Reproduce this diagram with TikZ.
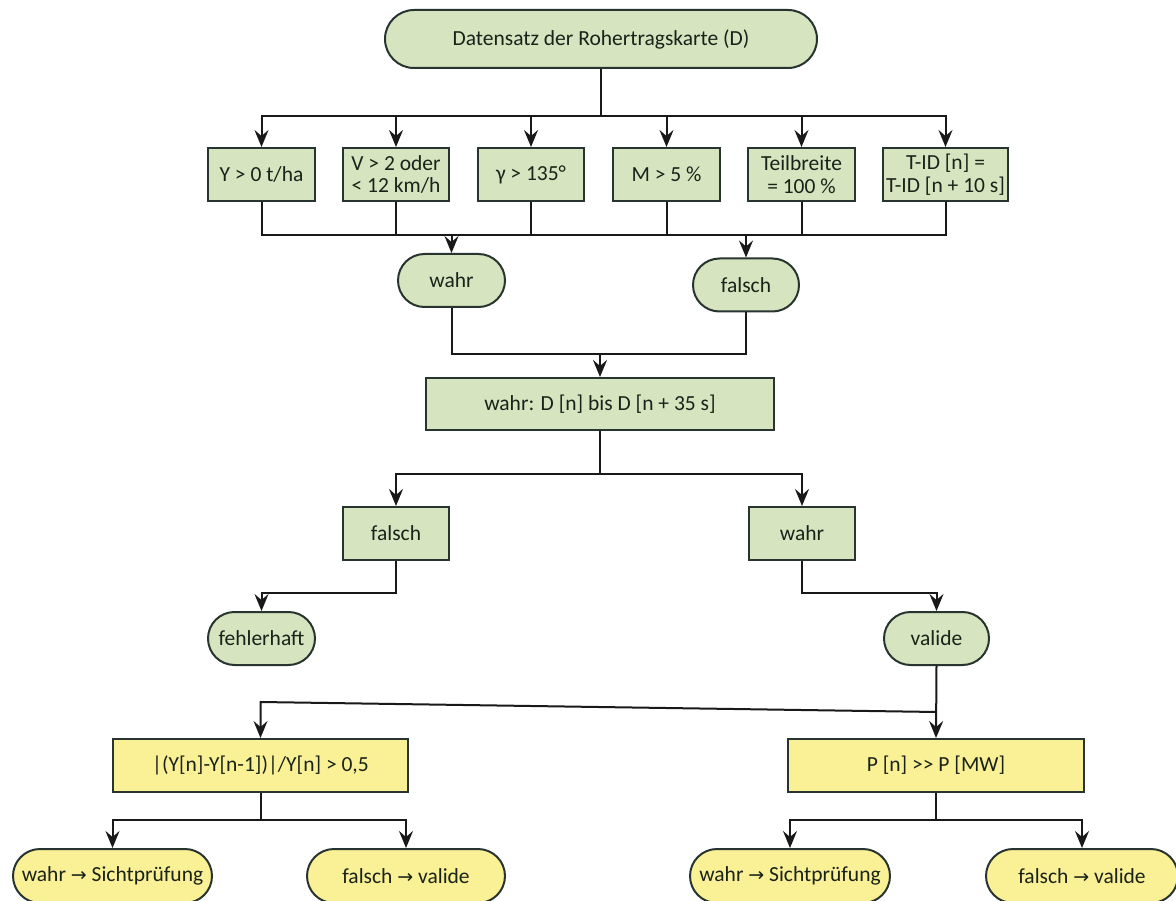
\documentclass[tikz,border=0pt]{standalone}
\usepackage{fontspec}
\setmainfont{Carlito}
\newfontfamily\symf{DejaVu Sans}
\usetikzlibrary{arrows.meta,shapes.misc}
\definecolor{gfill}{RGB}{214,228,192}
\definecolor{yfill}{RGB}{250,240,150}
\definecolor{bord}{RGB}{40,52,48}
\definecolor{txt}{RGB}{25,35,25}
\definecolor{ln}{RGB}{25,25,25}
\newcommand{\rarr}{{\symf\fontsize{19}{20}\selectfont →}}
\begin{document}
\begin{tikzpicture}[x=1pt,y=-1pt,
  base/.style={draw=bord,line width=2pt,font=\fontsize{21.5}{22.5}\selectfont,text=txt,align=center,inner sep=0pt,minimum height=53pt},
  gbox/.style={base,rectangle,fill=gfill},
  ybox/.style={base,rectangle,fill=yfill},
  gterm/.style={base,rounded rectangle,fill=gfill},
  yterm/.style={base,rounded rectangle,fill=yfill},
  conn/.style={draw=ln,line width=2pt},
  arr/.style={conn,-{Stealth[length=17pt,width=14pt,inset=6pt]}}]
\useasboundingbox (0,0) rectangle (1176,901);
\fill[white] (0,0) rectangle (1176,901);

% nodes
\node[gterm,minimum width=432pt,minimum height=58pt] (top) at (601,39) {Datensatz der Rohertragskarte (D)};

\node[gbox,minimum width=107pt] (b1) at (261.5,174.5) {Y > 0 t/ha};
\node[gbox,minimum width=106pt] (b2) at (396,174.5) {V > 2 oder\\< 12 km/h};
\node[gbox,minimum width=106pt] (b3) at (531,174.5) {γ > 135°};
\node[gbox,minimum width=107pt] (b4) at (666.5,174.5) {M > 5 \%};
\node[gbox,minimum width=107pt] (b5) at (801.5,174.5) {Teilbreite\\= 100 \%};
\node[gbox,minimum width=125pt] (b6) at (945.5,174.5) {T-ID [n] =\\T-ID [n + 10 s]};

\node[gterm,minimum width=107pt] (wahr1) at (451.5,280.5) {wahr};
\node[gterm,minimum width=106pt] (falsch1) at (746,285) {falsch};

\node[gbox,minimum width=348pt,minimum height=52pt] (dbox) at (600,404) {wahr: D [n] bis D [n + 35 s]};

\node[gbox,minimum width=106pt] (falsch2) at (396,533.5) {falsch};
\node[gbox,minimum width=106pt] (wahr2) at (802,533.5) {wahr};

\node[gterm,minimum width=107pt] (fehl) at (261.5,638.5) {fehlerhaft};
\node[gterm,minimum width=105pt] (val) at (936.5,638.5) {valide};

\node[ybox,minimum width=295pt] (yl) at (260.5,765.5) {|(Y[n]-Y[n-1])|/Y[n] > 0,5};
\node[ybox,minimum width=296pt] (yr) at (936,765.5) {P [n] >{}> P [MW]};

\node[yterm,minimum width=199pt,minimum height=54pt] (o1) at (112.5,876) {wahr \rarr{} Sichtprüfung};
\node[yterm,minimum width=198pt,minimum height=54pt] (o2) at (406,876) {falsch \rarr{} valide};
\node[yterm,minimum width=200pt,minimum height=54pt] (o3) at (790,876) {wahr \rarr{} Sichtprüfung};
\node[yterm,minimum width=192pt,minimum height=54pt] (o4) at (1082,876) {falsch \rarr{} valide};

% helper coordinates
\coordinate (bus1) at (0,116);
\coordinate (bus2) at (0,235);
\coordinate (jn) at (601,354);
\coordinate (sp) at (0,474);
\coordinate (s2) at (0,593);
\coordinate (sr) at (936.5,712);
\coordinate (sl) at (260.5,702);
\coordinate (s3) at (0,820);

% top distribution
\foreach \b in {b1,b2,b3,b4,b5,b6}
  \draw[arr] (top.south) -- (top.south|-bus1) -| (\b.north);

% collection
\draw[conn] (b1.south) -- (b1.south|-bus2) -- (b6.south|-bus2) -- (b6.south);
\foreach \b in {b2,b3,b4,b5}
  \draw[conn] (\b.south) -- (\b.south|-bus2);
\draw[arr] (wahr1.north|-bus2) -- (wahr1.north);
\draw[arr] (falsch1.north|-bus2) -- (falsch1.north);

% join
\draw[conn] (wahr1.south) |- (jn) -| (falsch1.south);
\draw[arr] (dbox.north|-jn) -- (dbox.north);

% split
\draw[arr] (dbox.south) -- (dbox.south|-sp) -| (falsch2.north);
\draw[arr] (dbox.south) -- (dbox.south|-sp) -| (wahr2.north);

\draw[arr] (falsch2.south) -- (falsch2.south|-s2) -| (fehl.north);
\draw[arr] (wahr2.south) -- (wahr2.south|-s2) -| (val.north);

% from valide
\draw[arr] (val.south) -- (yr.north);
\draw[arr] (sr) -- (sl) -- (yl.north);

% bottom splits
\draw[arr] (yl.south) -- (yl.south|-s3) -| (o1.north);
\draw[arr] (yl.south) -- (yl.south|-s3) -| (o2.north);
\draw[arr] (yr.south) -- (yr.south|-s3) -| (o3.north);
\draw[arr] (yr.south) -- (yr.south|-s3) -| (o4.north);
\end{tikzpicture}
\end{document}
